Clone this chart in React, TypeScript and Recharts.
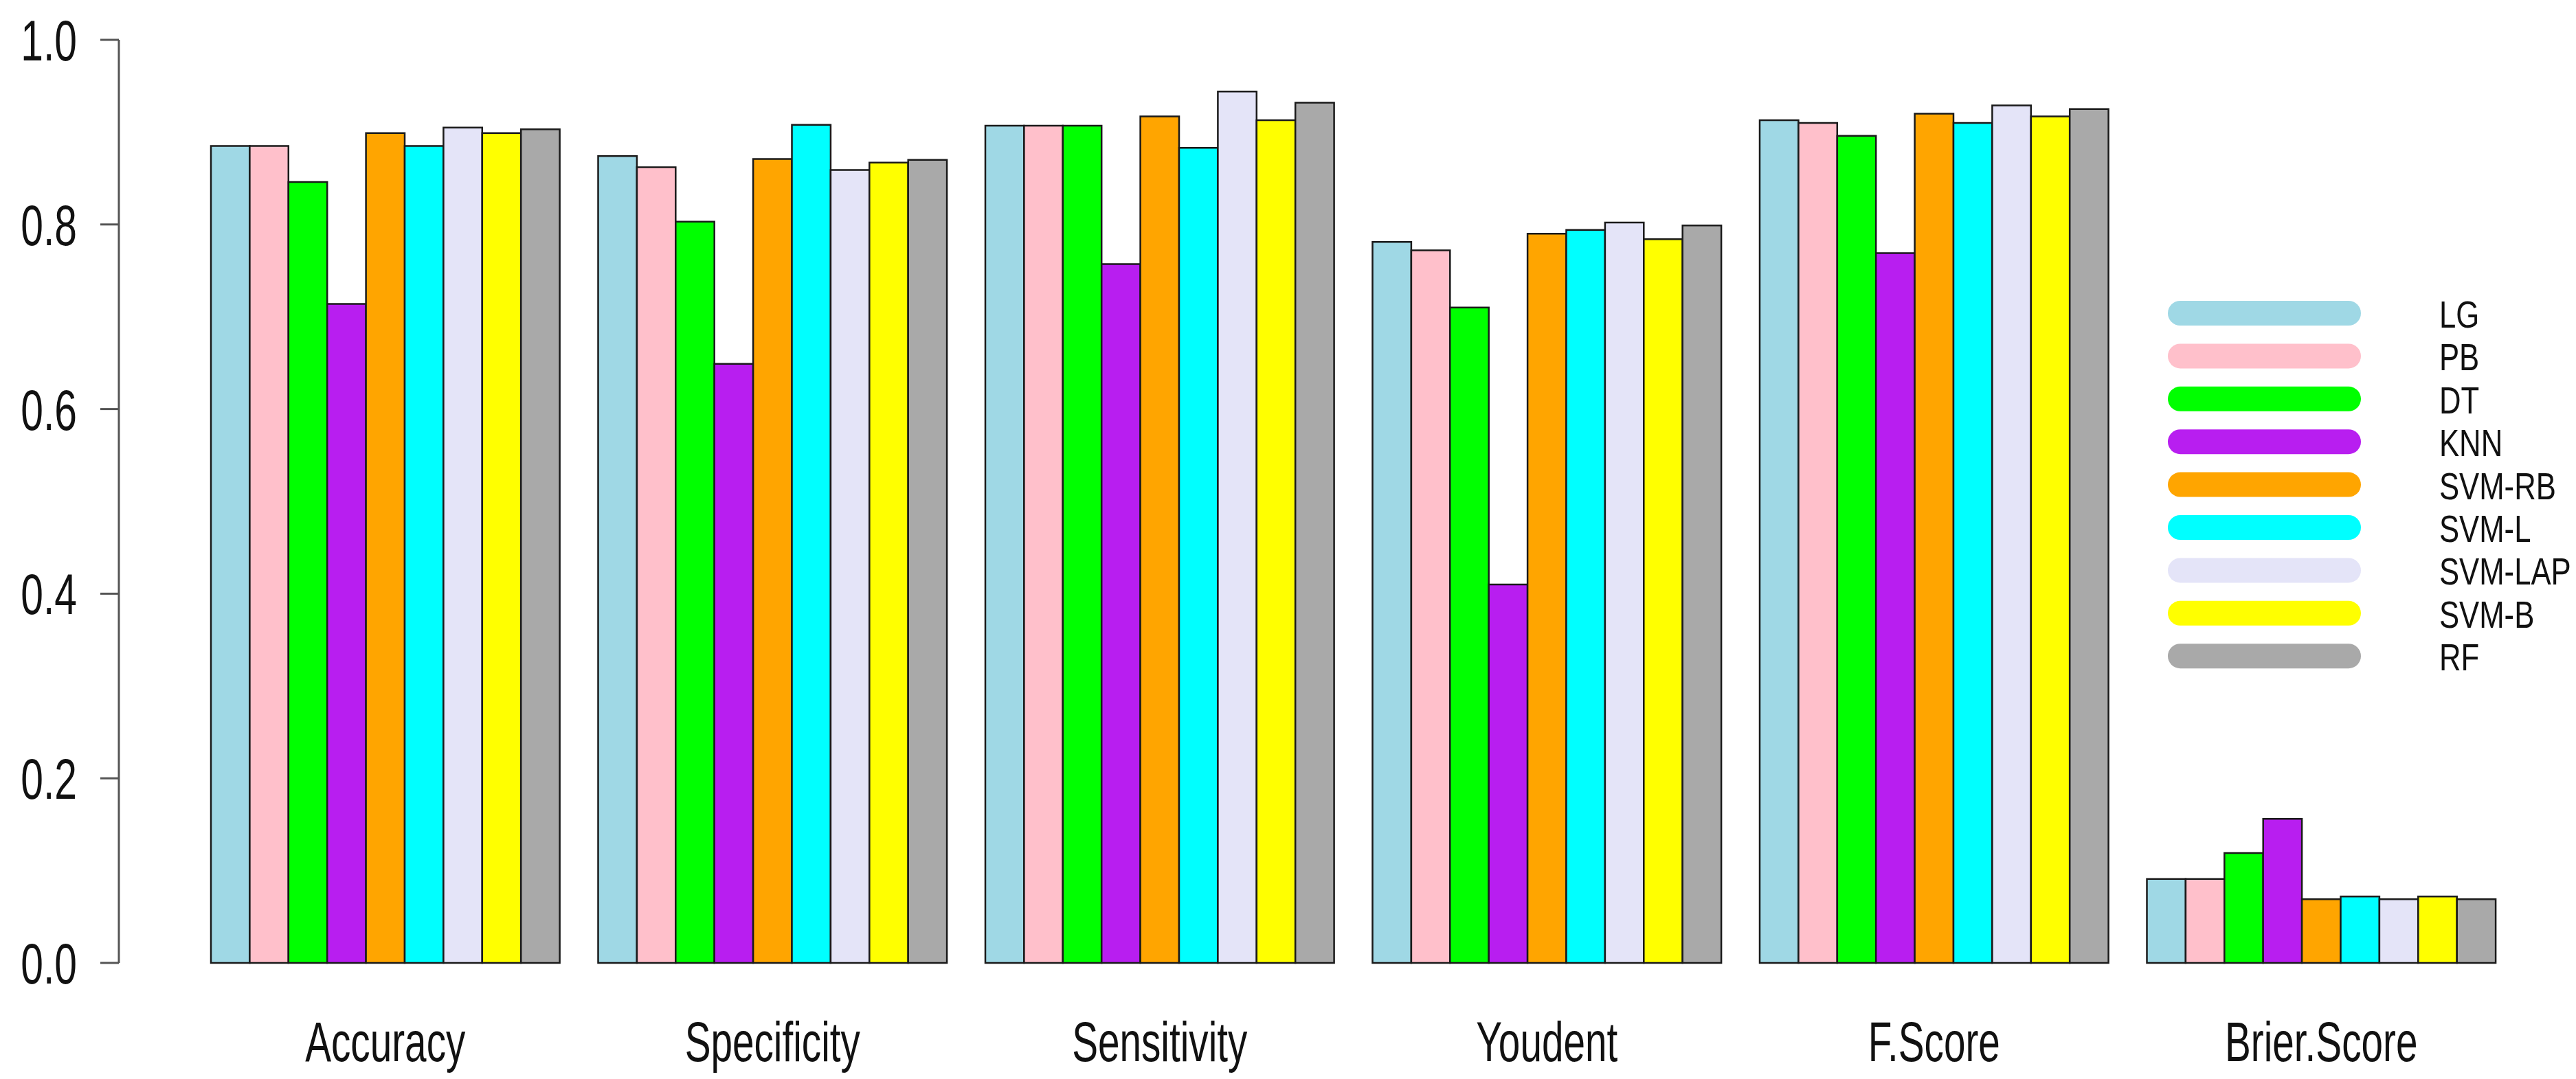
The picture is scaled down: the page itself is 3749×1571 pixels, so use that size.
import React from "react";
import { Bar, BarChart, Legend, XAxis, YAxis } from "recharts";

const metrics = ["Accuracy", "Specificity", "Sensitivity", "Youdent", "F.Score", "Brier.Score"];
const models = ["LG", "PB", "DT", "KNN", "SVM-RB", "SVM-L", "SVM-LAP", "SVM-B", "RF"];
const colors = ["#9fd8e5", "#ffc0cb", "#00ff00", "#b81ef0", "#ffa500", "#00ffff", "#e4e4f8", "#ffff00", "#a9a9a9"];
const yTicks = [0, 0.2, 0.4, 0.6, 0.8, 1.0];

const lg = [0.885, 0.874, 0.907, 0.781, 0.913, 0.091];
const pb = [0.885, 0.862, 0.907, 0.772, 0.910, 0.091];
const dt = [0.846, 0.803, 0.907, 0.710, 0.896, 0.119];
const knn = [0.714, 0.649, 0.757, 0.410, 0.769, 0.156];
const svmRb = [0.899, 0.871, 0.917, 0.790, 0.920, 0.069];
const svmL = [0.885, 0.908, 0.883, 0.794, 0.910, 0.072];
const svmLap = [0.905, 0.859, 0.944, 0.802, 0.929, 0.069];
const svmB = [0.899, 0.867, 0.913, 0.784, 0.917, 0.072];
const rf = [0.903, 0.870, 0.932, 0.799, 0.925, 0.069];

const series = [lg, pb, dt, knn, svmRb, svmL, svmLap, svmB, rf];

const data = metrics.map((m, i) => {
  const row: Record<string, string | number> = { name: m };
  models.forEach((mod, j) => {
    row[mod] = series[j][i];
  });
  return row;
});

const FONT = "'Liberation Sans', Arial, sans-serif";

const YTick = ({ x, y, payload }: any) => (
  <text
    transform={`translate(${x},${y}) scale(0.7,1)`}
    textAnchor="end"
    dy={30}
    fontSize={84}
    fontFamily={FONT}
    fill="#111"
  >
    {payload.value.toFixed(1)}
  </text>
);

const XTick = ({ x, y, payload }: any) => (
  <text
    transform={`translate(${x},${y + 143}) scale(0.7,1)`}
    textAnchor="middle"
    fontSize={81}
    fontFamily={FONT}
    fill="#111"
  >
    {payload.value}
  </text>
);

const renderLegend = () => (
  <svg width={620} height={580}>
    {models.map((m, i) => {
      const cy = 36 + i * 62.4;
      return (
        <g key={m}>
          <line x1={43} x2={288} y1={cy} y2={cy} stroke={colors[i]} strokeWidth={36} strokeLinecap="round" />
          <text
            transform={`translate(420,${cy + 21}) scale(0.78,1)`}
            fontSize={56}
            fontFamily={FONT}
            fill="#111"
          >
            {m}
          </text>
        </g>
      );
    })}
  </svg>
);

export default function App() {
  return (
    <div>
      <style>{"body{margin:0;background:#fff}"}</style>
      <BarChart
        width={3749}
        height={1571}
        data={data}
        margin={{ top: 58, right: 89, bottom: 0, left: 0 }}
        barCategoryGap="5%"
        barGap={0}
        barSize={56.4}
      >
        <XAxis
          dataKey="name"
          axisLine={false}
          tickLine={false}
          tickSize={0}
          tickMargin={0}
          height={169}
          padding={{ left: 106, right: 0 }}
          tick={<XTick />}
          interval={0}
        />
        <YAxis
          width={173}
          domain={[0, 1]}
          ticks={yTicks}
          tickSize={27}
          tickMargin={34}
          axisLine={{ stroke: "#555", strokeWidth: 3 }}
          tickLine={{ stroke: "#555", strokeWidth: 3 }}
          tick={<YTick />}
          interval={0}
        />
        <Legend
          layout="vertical"
          align="center"
          verticalAlign="middle"
          content={renderLegend}
          wrapperStyle={{ left: 3130, top: 420, width: 620, height: 580 }}
        />
        {models.map((m, i) => (
          <Bar
            key={m}
            dataKey={m}
            fill={colors[i]}
            stroke="#1a1a1a"
            strokeWidth={2.5}
            isAnimationActive={false}
          />
        ))}
      </BarChart>
    </div>
  );
}
